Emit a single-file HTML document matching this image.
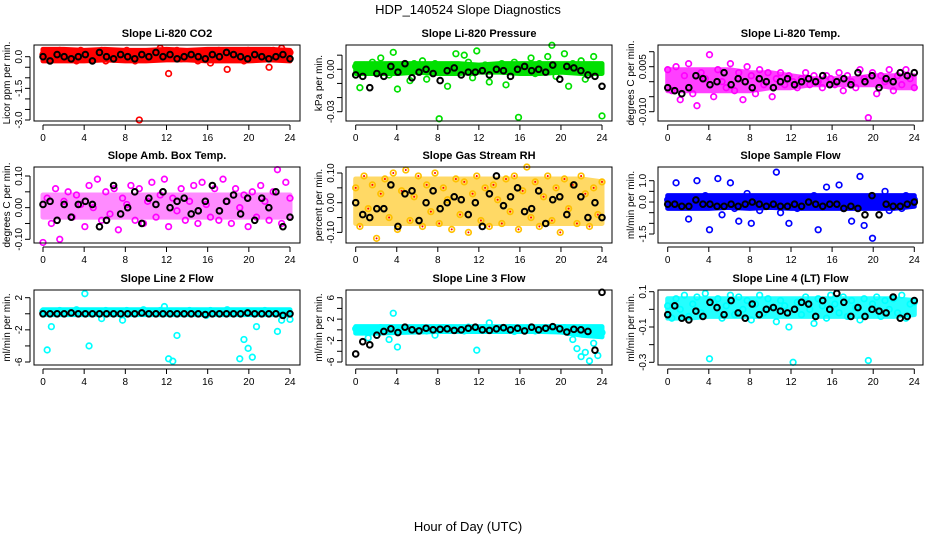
<!DOCTYPE html>
<html><head><meta charset="utf-8"><style>
html,body{margin:0;padding:0;background:#fff;}
svg{display:block;font-family:"Liberation Sans",sans-serif;}
</style></head><body>
<svg id="chart" width="936" height="540" viewBox="0 0 936 540">
<text x="468" y="14" text-anchor="middle" font-size="13">HDP_140524  Slope Diagnostics</text>
<text x="468" y="531" text-anchor="middle" font-size="13">Hour of Day (UTC)</text>
</svg>
<script>
const xTicks = [0,4,8,12,16,20,24];
const titles = ["Slope Li-820 CO2","Slope Li-820 Pressure","Slope Li-820 Temp.","Slope Amb. Box Temp.","Slope Gas Stream RH","Slope Sample Flow","Slope Line 2 Flow","Slope Line 3 Flow","Slope Line 4 (LT) Flow"];
const yTitles = ["Licor ppm per min.","kPa per min.","degrees C per min.","degrees C per min.","percent per min.","ml/min per min.","ml/min per min.","ml/min per min.","ml/min per min."];
const yTickVals = [[0,-0.5,-1,-1.5,-2,-2.5,-3],[0.01,0,-0.01,-0.02,-0.03],[0.01,0.005,0,-0.005,-0.01],[0.1,0.05,0,-0.05,-0.1],[0.1,0.05,0,-0.05,-0.1],[1,0.5,0,-0.5,-1,-1.5],[2,0,-2,-4,-6],[6,4,2,0,-2,-4,-6],[0.1,0,-0.1,-0.2,-0.3]];
const yTickLabels = [["0.0","","","-1.5","","","-3.0"],["","0.00","","","-0.03"],["","0.005","","","-0.010"],["0.10","","0.00","","-0.10"],["0.10","","0.00","","-0.10"],["1.0","","0.0","","","-1.5"],["2","","-2","","-6"],["6","","2","","-2","","-6"],["0.1","","-0.1","","-0.3"]];
const bandHours = [0,2,4,6,8,10,12,14,16,18,20,22,24];
const bandLow = [
[-0.2,-0.2,-0.2,-0.15,-0.2,-0.2,-0.15,-0.15,-0.2,-0.2,-0.2,-0.15,-0.2],
[-0.003,-0.003,-0.003,-0.002,-0.003,-0.003,-0.002,-0.002,-0.003,-0.003,-0.002,-0.003,-0.003],
[-0.003,-0.003,-0.003,-0.003,-0.003,-0.002,-0.002,-0.001,-0.001,-0.001,-0.001,-0.002,-0.002],
[-0.03,-0.03,-0.03,-0.03,-0.03,-0.03,-0.03,-0.03,-0.03,-0.03,-0.03,-0.03,-0.03],
[-0.07,-0.07,-0.07,-0.07,-0.07,-0.07,-0.07,-0.07,-0.07,-0.07,-0.07,-0.07,-0.07],
[-0.3,-0.3,-0.3,-0.25,-0.3,-0.25,-0.3,-0.3,-0.3,-0.3,-0.3,-0.3,-0.2],
[-0.1,-0.1,-0.1,-0.1,-0.1,-0.1,-0.1,-0.1,-0.1,-0.1,-0.1,-0.1,-0.1],
[-0.6,-0.6,-0.5,-0.4,-0.3,-0.3,-0.3,-0.3,-0.3,-0.3,-0.4,-1.0,-1.3],
[-0.05,-0.05,-0.04,-0.04,-0.04,-0.04,-0.04,-0.04,-0.04,-0.04,-0.04,-0.04,-0.03]
];
const bandHigh = [
[0.35,0.35,0.3,0.35,0.3,0.3,0.35,0.3,0.35,0.35,0.35,0.35,0.3],
[0.004,0.004,0.004,0.004,0.004,0.004,0.003,0.004,0.004,0.004,0.004,0.004,0.004],
[0.004,0.004,0.004,0.004,0.003,0.003,0.002,0.001,0.001,0.001,0.002,0.002,0.002],
[0.04,0.04,0.04,0.04,0.04,0.04,0.04,0.04,0.04,0.04,0.04,0.04,0.04],
[0.08,0.08,0.08,0.08,0.08,0.08,0.08,0.08,0.08,0.08,0.08,0.08,0.07],
[0.3,0.3,0.3,0.3,0.3,0.3,0.3,0.3,0.3,0.3,0.3,0.3,0.3],
[0.5,0.5,0.5,0.5,0.5,0.5,0.5,0.5,0.5,0.5,0.5,0.5,0.5],
[0.6,0.6,0.6,0.6,0.6,0.6,0.6,0.6,0.6,0.6,0.6,0.6,0.6],
[0.06,0.06,0.06,0.06,0.06,0.06,0.06,0.06,0.06,0.06,0.06,0.06,0.05]
];
const colorValues = [
[0.1,-0.1,0.2,0.0,0.3,-0.1,0.2,0.1,-0.2,0.3,0.0,0.2,-0.1,0.1,0.3,-0.2,0.2,0.0,0.1,-0.1,0.3,0.1,-0.2,-3.0,0.2,0.0,0.1,-0.1,0.4,0.2,-0.8,0.1,0.3,-0.1,0.0,0.2,0.1,-0.2,0.2,0.0,-0.3,0.1,0.3,-0.1,-0.6,0.2,0.0,0.1,-0.2,0.3,0.1,0.0,0.2,-0.1,-0.5,0.3,0.1,0.4,-0.1,0.2],
[0.002,-0.013,0.003,0.000,0.005,-0.001,0.008,0.002,-0.004,0.012,-0.014,0.003,0.001,-0.008,0.004,0.000,0.006,-0.007,0.002,0.004,-0.035,0.001,-0.012,0.003,0.011,-0.002,0.010,0.005,-0.006,0.013,0.001,0.003,-0.009,0.002,0.000,0.004,-0.011,0.002,0.005,-0.034,0.003,0.001,0.008,-0.003,0.004,0.000,0.009,0.017,-0.005,0.002,0.011,-0.012,0.004,0.001,0.006,-0.007,0.003,0.009,0.001,-0.033],
[0.004,-0.003,0.005,-0.006,0.002,0.006,-0.004,-0.008,0.003,0.001,0.009,-0.005,0.004,0.000,-0.002,0.006,-0.003,0.003,-0.006,0.005,0.002,-0.004,0.004,-0.001,0.003,-0.005,0.001,0.003,-0.001,0.002,0.000,-0.002,0.001,0.003,-0.001,0.002,0.000,-0.002,0.002,0.001,-0.001,0.003,-0.003,0.002,0.000,-0.002,0.004,0.001,-0.012,0.003,-0.004,0.002,0.000,0.004,-0.003,0.002,-0.001,0.004,0.001,-0.002],
[-0.11,0.03,-0.05,0.06,-0.10,0.02,0.05,-0.03,0.04,0.01,-0.06,0.07,0.00,0.09,-0.04,0.05,-0.02,0.06,-0.07,0.03,0.01,0.07,-0.04,0.06,-0.05,0.02,0.08,-0.03,0.04,0.09,-0.06,0.03,-0.01,0.06,-0.04,0.02,0.07,-0.05,0.08,0.01,-0.03,0.06,-0.04,0.09,0.02,-0.05,0.06,0.00,0.04,-0.06,0.05,-0.03,0.07,0.02,-0.04,0.05,0.12,-0.05,0.08,0.03],
[0.05,-0.08,0.09,-0.02,0.06,-0.12,0.03,0.08,-0.05,0.10,-0.09,0.04,0.11,-0.06,0.02,0.09,-0.08,0.06,-0.03,0.10,-0.07,0.05,0.01,-0.09,0.08,-0.04,0.07,-0.10,0.03,0.09,-0.06,0.05,-0.08,0.06,0.01,-0.07,0.08,-0.03,0.09,-0.09,0.04,0.12,-0.05,0.07,-0.08,0.02,0.09,-0.06,0.05,-0.10,0.08,-0.02,0.06,-0.07,0.09,0.03,-0.08,0.05,-0.04,0.07],
[0.1,-0.2,0.9,-0.1,0.2,-0.8,0.1,1.0,-0.2,0.3,-1.3,0.0,1.1,-0.6,0.2,0.9,-0.3,-0.9,0.1,0.4,-1.0,0.2,-0.4,0.1,0.2,-0.1,1.4,-0.5,0.1,-1.0,0.2,-0.3,0.0,0.1,-0.2,0.3,-1.3,0.1,0.7,-0.2,0.2,0.8,-0.3,0.1,-0.9,0.2,1.2,-1.1,0.0,-1.7,0.2,-0.2,0.5,-0.4,0.1,0.2,-0.3,0.3,0.0,0.1],
[0.3,-4.5,-1.6,0.2,0.4,0.1,0.3,0.2,0.5,0.1,2.5,-4.0,0.3,0.2,-0.6,0.4,0.1,0.3,0.2,-0.8,0.4,0.1,0.3,0.2,0.5,0.1,0.3,0.2,0.4,0.9,-5.6,-5.9,-2.7,0.3,0.2,0.4,0.1,0.3,0.2,-0.2,0.4,0.1,0.3,0.2,0.5,0.1,0.3,-5.6,-3.2,-4.3,-5.4,-1.6,0.2,0.4,0.1,0.3,-2.2,-0.8,0.3,-0.7],
[0.2,-0.3,0.1,-1.5,0.3,-0.2,0.4,0.0,-1.8,3.1,-3.2,0.1,0.3,-0.1,0.2,0.0,0.4,-0.2,0.3,-1.0,0.1,0.4,-0.1,0.2,0.0,0.3,-0.2,0.5,0.1,-3.8,0.2,0.4,1.3,0.0,0.3,-0.1,0.2,0.4,-0.3,0.1,0.3,0.0,0.5,-0.2,0.2,0.4,0.0,0.3,-0.1,0.2,0.4,-0.5,-1.8,-3.5,-5.0,-4.2,-5.8,-2.5,-4.8,-0.5],
[0.02,-0.05,0.06,0.00,0.08,-0.04,0.03,0.07,-0.02,0.09,-0.28,0.04,0.06,-0.05,0.02,0.08,-0.03,0.07,0.00,0.05,-0.06,0.03,0.08,-0.02,0.06,0.01,-0.07,0.05,0.02,-0.10,-0.30,0.04,-0.03,0.07,0.00,-0.08,0.06,0.02,-0.05,0.08,0.03,-0.02,0.07,-0.04,0.05,0.01,-0.06,0.06,-0.29,0.03,0.07,-0.04,0.05,0.00,0.06,-0.02,0.08,-0.05,0.03,0.04]
];
const blackValues = [
[0.0,-0.2,0.1,0.0,-0.1,0.0,0.1,-0.2,0.2,0.0,-0.1,0.1,0.0,-0.1,0.1,0.0,0.2,0.0,0.1,-0.1,0.0,0.1,0.0,-0.1,0.1,0.0,0.2,0.1,0.0,-0.1,0.1,0.0,-0.1,0.0,0.1,-0.1],
[-0.004,-0.005,-0.013,-0.003,-0.005,0.002,-0.002,0.004,-0.006,-0.002,0.000,-0.003,-0.008,-0.001,0.001,-0.004,-0.002,-0.002,-0.001,-0.004,0.000,-0.001,-0.005,0.000,0.002,-0.001,0.000,-0.002,0.003,-0.007,0.002,0.001,-0.001,-0.004,-0.005,-0.012],
[-0.002,-0.003,-0.004,-0.002,0.002,0.001,-0.001,0.000,0.003,-0.001,0.001,0.000,-0.002,0.001,0.000,-0.002,0.000,0.001,-0.001,0.000,0.001,0.000,0.002,-0.001,0.000,0.001,-0.001,0.003,0.000,0.002,-0.002,0.001,0.000,0.003,0.002,0.003],
[0.01,0.02,-0.04,0.01,-0.03,0.01,0.02,0.01,-0.06,-0.04,0.07,-0.02,0.00,0.05,-0.05,0.03,0.01,0.05,0.00,0.02,0.03,-0.02,-0.01,0.02,0.07,-0.01,0.02,0.04,-0.02,0.03,-0.04,0.03,0.00,0.05,-0.06,-0.03],
[0.00,-0.04,-0.05,-0.02,-0.02,0.06,-0.08,0.03,0.04,-0.06,0.00,0.04,-0.02,0.00,0.02,0.01,-0.04,0.00,-0.08,0.03,0.09,-0.01,0.02,0.05,-0.03,-0.02,0.04,-0.07,0.01,0.02,-0.04,0.06,0.02,-0.05,0.00,-0.05],
[-0.1,-0.1,-0.2,-0.2,0.1,-0.1,-0.1,-0.2,-0.2,-0.1,-0.2,-0.1,0.0,-0.1,-0.2,-0.1,-0.2,-0.2,-0.1,-0.2,0.0,-0.1,-0.2,-0.1,-0.1,-0.3,-0.2,-0.3,-0.6,0.3,-0.6,-0.1,-0.2,-0.2,-0.1,0.0],
[0.0,0.0,0.0,0.0,0.1,0.0,0.0,0.0,0.0,0.0,0.0,0.0,0.0,0.0,0.1,0.0,0.0,0.0,0.0,0.0,0.0,0.0,0.0,-0.1,0.0,0.0,0.0,0.0,0.0,0.1,0.0,0.0,0.0,0.0,-0.2,0.0],
[-4.5,-2.2,-2.8,-1.0,-0.3,0.2,-0.5,0.5,0.0,-0.2,0.3,0.0,0.1,0.2,-0.1,0.0,0.3,0.5,0.0,-0.1,0.2,0.4,0.0,0.3,-0.2,0.5,0.0,0.3,0.6,0.2,-0.4,0.1,0.0,-0.3,-3.8,7.0],
[-0.03,0.02,-0.05,-0.06,-0.01,-0.04,0.04,0.01,-0.03,0.05,-0.02,-0.05,0.03,-0.03,0.00,0.01,-0.01,-0.02,0.00,0.04,0.03,-0.04,0.05,0.00,0.09,0.04,-0.04,0.01,-0.04,0.00,-0.01,-0.02,0.07,-0.05,-0.04,0.05]
];
const seriesColors = ["#ff0000","#00e000","#ff00ff","#ff00ff","#ffc000","#0000ff","#00ffff","#00ffff","#00ffff"];
const bandOpacity = [1,1,0.75,0.45,0.6,1,1,1,0.85];
const cols = [{x0:34,x1:300,h0:43,h24:290},{x0:346,x1:612,h0:355.7,h24:602},{x0:658,x1:923,h0:667.7,h24:914.3}];
const rows = [{y0:45,y1:121},{y0:167,y1:243},{y0:290,y1:365}];
const ycal = [[0,56.7,-3,120],[0,69.3,-0.03,111.7],[0.005,66.7,-0.01,111.7],[0.1,176,-0.1,239.3],[0.1,173,-0.1,232.4],[1,180.7,-1.5,234],[2,297.7,-6,362],[6,297.7,-6,362],[0.1,291.7,-0.3,362.3]];

const svg = document.getElementById('chart');
const NS = 'http://www.w3.org/2000/svg';
function mk(tag, attrs, parent){ const e=document.createElementNS(NS,tag); for(const k in attrs) e.setAttribute(k,attrs[k]); (parent||svg).appendChild(e); return e; }

for(let p=0;p<9;p++){
  const c=cols[p%3], r=rows[Math.floor(p/3)], cal=ycal[p];
  const xs = h => c.h0 + (c.h24-c.h0)*h/24;
  const ys = v => cal[1] + (v-cal[0])*(cal[3]-cal[1])/(cal[2]-cal[0]);
  const g = mk('g',{});
  
  
  const t = mk('text',{x:(c.x0+c.x1)/2,y:r.y0-8,'text-anchor':'middle','font-size':11,'font-weight':'bold'},g);
  t.textContent = titles[p];
  
  
  const yt = mk('text',{transform:`translate(${c.x0-24},${(r.y0+r.y1)/2}) rotate(-90)`,'text-anchor':'middle','font-size':10},g);
  yt.textContent = yTitles[p];
  
  
  const col = seriesColors[p];
  const lo = bandLow[p], hi = bandHigh[p];
  let pts = bandHours.map((h,i)=>xs(h)+','+ys(hi[i]));
  pts = pts.concat(bandHours.slice().reverse().map((h,k)=>{const i=bandHours.length-1-k; return xs(h)+','+ys(lo[i]);}));
  const band = mk('polygon',{points:pts.join(' '),fill:col,stroke:col,'stroke-width':5,'stroke-linejoin':'round',opacity:bandOpacity[p]},g);
  
  
  const cv = colorValues[p];
  const pg = mk('g',{},g);
  
  
  cv.forEach((v,i)=>{
    const h = i*24/(cv.length-1);
    const pt = mk('circle',{cx:xs(h),cy:ys(v),r:2.8,fill:'none',stroke:col,'stroke-width':1.7},pg);
    
    
    if(p===4){ const d = mk('circle',{cx:xs(h),cy:ys(v),r:1,fill:'#ff0000'},pg);   }
  });
  const bv = blackValues[p];
  const bg = mk('g',{},g);
  
  
  bv.forEach((v,i)=>{
    const h = i*24/(bv.length-1);
    const pt = mk('circle',{cx:xs(h),cy:ys(v),r:2.8,fill:'none',stroke:'#000','stroke-width':2},bg);
    
    
  });
  const b = mk('rect',{x:c.x0,y:r.y0,width:c.x1-c.x0,height:r.y1-r.y0,fill:'none',stroke:'#000','stroke-width':1},g);
  
  
  const xa = mk('g',{},g);
  
  
  mk('line',{x1:xs(0),x2:xs(24),y1:r.y1+4,y2:r.y1+4,stroke:'#000'},xa);
  xTicks.forEach(h=>{
    mk('line',{x1:xs(h),x2:xs(h),y1:r.y1+4,y2:r.y1+9,stroke:'#000'},xa);
    const tl = mk('text',{x:xs(h),y:r.y1+20,'text-anchor':'middle','font-size':10},xa);
    tl.textContent = h;
    
    
  });
  const ya = mk('g',{},g);
  
  
  const tv = yTickVals[p], tls = yTickLabels[p];
  mk('line',{x1:c.x0-4,x2:c.x0-4,y1:ys(tv[0]),y2:ys(tv[tv.length-1]),stroke:'#000'},ya);
  tv.forEach((v,i)=>{
    mk('line',{x1:c.x0-9,x2:c.x0-4,y1:ys(v),y2:ys(v),stroke:'#000'},ya);
    if(tls[i]){
      const tl = mk('text',{transform:`translate(${c.x0-12},${ys(v)}) rotate(-90)`,'text-anchor':'middle','font-size':10},ya);
      tl.textContent = tls[i];
      
      
    }
  });
}
</script>
</body></html>
